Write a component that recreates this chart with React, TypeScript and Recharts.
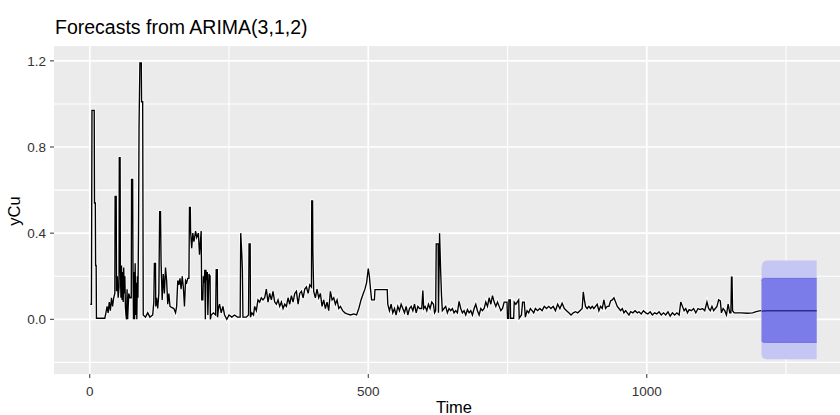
import { ComposedChart, Line, Area, XAxis, YAxis, CartesianGrid } from 'recharts';

const observed: [number, number][] = [
  [1, 0.07], [3, 0.07], [4, 0.97], [8, 0.97], [8.5, 0.54], [10, 0.54], [10.5, 0.25], [11.5, 0.25],
  [12, 0.005], [27, 0.005], [29, 0.03], [31, 0.06], [33, 0.03], [35, 0.08], [37, 0.04], [39, 0.1],
  [41, 0.06], [43, 0.1], [45, 0.12], [45.5, 0.57], [47.5, 0.57], [48, 0.13], [49.5, 0.2], [51, 0.1],
  [52.5, 0.15], [53, 0.75], [54.5, 0.75], [55, 0.22], [56, 0.1], [57, 0.25], [58, 0.09], [59, 0.22],
  [60, 0.08], [61, 0.24], [62, 0.12], [63, 0.2], [64, 0.06], [65, 0.02], [66, 0.0], [67, 0.14],
  [68, 0.0], [70, 0.12], [72, 0.1], [74.5, 0.1], [75, 0.65], [77, 0.65], [77.5, 0.28], [78.5, 0.0],
  [79.5, 0.22], [80.5, 0.0], [81.5, 0.26], [82.5, 0.02], [83.5, 0.17], [84.5, 0.0], [85.5, 0.2],
  [86.5, 0.1], [87.5, 0.4], [88.5, 0.9], [90, 1.19], [92.5, 1.19], [93, 1.01], [95, 1.01], [96, 0.02],
  [100, 0.01], [104, 0.03], [108, 0.01], [113, 0.02], [115, 0.08], [116, 0.26], [118, 0.26],
  [118.5, 0.06], [120, 0.1], [122, 0.05], [124, 0.12], [125.5, 0.5], [127, 0.5], [128, 0.27],
  [130, 0.09], [132, 0.21], [134, 0.12], [136, 0.24], [138, 0.18], [140, 0.07], [142, 0.12],
  [144, 0.06], [147, 0.055], [151, 0.05], [154, 0.03], [156, 0.06], [158, 0.18], [160, 0.16],
  [162, 0.19], [164, 0.14], [166, 0.2], [168, 0.15], [170, 0.06], [172, 0.18], [174, 0.17],
  [176, 0.19], [178, 0.19], [179, 0.52], [180.5, 0.52], [181, 0.41], [183, 0.33], [185, 0.4],
  [187, 0.36], [190, 0.41], [192, 0.38], [195, 0.4], [197, 0.3], [200, 0.41], [201, 0.09],
  [203, 0.09], [204, 0.2], [205.5, 0.17], [206.5, 0.23], [207.5, 0.0], [208.5, 0.23], [209.5, 0.18],
  [211, 0.22], [212, 0.02], [214, 0.21], [216, 0.2], [216.5, 0.0], [218, 0.02], [222, 0.03],
  [226, 0.02], [227, 0.23], [229, 0.23], [229.5, 0.01], [231, 0.05], [233, 0.07], [236, 0.03],
  [239, 0.06], [242, 0.02], [246, 0.0], [250, 0.02], [255, 0.01], [260, 0.02], [265, 0.01],
  [270, 0.01], [271, 0.4], [273, 0.3], [274, 0.23], [275, 0.01], [281, 0.01], [285, 0.02],
  [286, 0.35], [288, 0.35], [288.5, 0.01], [291, 0.03], [294, 0.02], [296, 0.06], [299, 0.04],
  [302, 0.09], [305, 0.08], [308, 0.1], [311, 0.09], [314, 0.1], [317, 0.14], [320, 0.08],
  [323, 0.12], [326, 0.09], [329, 0.13], [332, 0.08], [335, 0.07], [338, 0.09], [341, 0.06],
  [344, 0.08], [347, 0.05], [350, 0.07], [353, 0.06], [356, 0.1], [359, 0.07], [362, 0.11],
  [365, 0.08], [368, 0.12], [371, 0.13], [374, 0.07], [377, 0.12], [380, 0.13], [383, 0.1],
  [386, 0.14], [389, 0.15], [392, 0.12], [395, 0.16], [398, 0.15], [398.5, 0.55], [400, 0.55],
  [400.5, 0.32], [402, 0.13], [405, 0.1], [408, 0.14], [411, 0.1], [414, 0.12], [417, 0.06],
  [420, 0.09], [423, 0.05], [426, 0.08], [429, 0.04], [432, 0.13], [435, 0.09], [438, 0.1],
  [441, 0.07], [444, 0.09], [447, 0.05], [450, 0.06], [454, 0.04], [458, 0.03], [462, 0.025],
  [468, 0.02], [474, 0.025], [479, 0.02], [483, 0.05], [487, 0.09], [491, 0.12], [494, 0.14],
  [497, 0.17], [500, 0.235], [502, 0.2], [504, 0.14], [506, 0.09], [511, 0.09], [512, 0.138],
  [534, 0.138], [535, 0.07], [538, 0.04], [541, 0.07], [544, 0.03], [547, 0.05], [550, 0.02],
  [553, 0.06], [556, 0.04], [559, 0.07], [562, 0.05], [565, 0.03], [568, 0.06], [571, 0.02],
  [574, 0.05], [577, 0.06], [580, 0.04], [583, 0.07], [586, 0.03], [589, 0.06], [592, 0.05],
  [596, 0.05], [598, 0.134], [599.5, 0.05], [602, 0.06], [605, 0.04], [608, 0.07], [611, 0.05],
  [614, 0.08], [617, 0.07], [619, 0.03], [621, 0.04], [622, 0.35], [625.5, 0.35], [626, 0.03],
  [628, 0.4], [630, 0.22], [631.5, 0.11], [633, 0.04], [636, 0.05], [639, 0.06], [642, 0.03],
  [645, 0.05], [648, 0.04], [651, 0.05], [654, 0.03], [657, 0.04], [660, 0.03], [663, 0.083],
  [666, 0.05], [669, 0.03], [672, 0.04], [675, 0.02], [678, 0.045], [681, 0.03], [684, 0.04],
  [687, 0.02], [690, 0.05], [693, 0.07], [696, 0.04], [699, 0.02], [702, 0.05], [705, 0.04],
  [708, 0.05], [711, 0.08], [714, 0.06], [717, 0.1], [720, 0.07], [723, 0.11], [726, 0.08],
  [729, 0.06], [732, 0.08], [735, 0.06], [738, 0.04], [741, 0.05], [744, 0.08], [749, 0.08],
  [750, 0.005], [752, 0.005], [752.5, 0.09], [755, 0.09], [755.5, 0.005], [761, 0.005], [762, 0.08],
  [765, 0.07], [770, 0.09], [771, 0.005], [775, 0.02], [777, 0.08], [780, 0.08], [782, 0.01],
  [785, 0.04], [788, 0.03], [791, 0.05], [794, 0.04], [797, 0.03], [800, 0.05], [804, 0.04],
  [808, 0.05], [812, 0.04], [816, 0.06], [820, 0.05], [824, 0.06], [828, 0.05], [832, 0.06],
  [836, 0.04], [840, 0.07], [844, 0.05], [848, 0.075], [852, 0.05], [856, 0.04], [860, 0.03],
  [864, 0.02], [868, 0.03], [872, 0.035], [876, 0.03], [880, 0.04], [884, 0.05], [886, 0.127],
  [888, 0.09], [890, 0.06], [893, 0.05], [896, 0.06], [899, 0.05], [902, 0.06], [905, 0.05],
  [908, 0.06], [911, 0.07], [914, 0.04], [917, 0.06], [920, 0.05], [923, 0.09], [926, 0.05],
  [929, 0.06], [932, 0.06], [935, 0.085], [938, 0.09], [941, 0.1], [944, 0.08], [947, 0.06],
  [950, 0.05], [953, 0.04], [956, 0.05], [959, 0.03], [962, 0.04], [965, 0.03], [968, 0.02],
  [971, 0.035], [975, 0.03], [979, 0.04], [983, 0.03], [986, 0.035], [990, 0.025], [994, 0.04],
  [998, 0.03], [1002, 0.025], [1006, 0.035], [1010, 0.02], [1014, 0.03], [1018, 0.025],
  [1022, 0.035], [1026, 0.02], [1030, 0.03], [1034, 0.02], [1038, 0.035], [1042, 0.015],
  [1046, 0.03], [1050, 0.02], [1054, 0.03], [1058, 0.02], [1061, 0.08], [1064, 0.06], [1067, 0.04],
  [1070, 0.05], [1073, 0.03], [1076, 0.045], [1080, 0.04], [1084, 0.05], [1088, 0.03], [1092, 0.05],
  [1096, 0.045], [1100, 0.05], [1104, 0.04], [1108, 0.08], [1111, 0.05], [1114, 0.04], [1117, 0.06],
  [1120, 0.04], [1123, 0.05], [1126, 0.06], [1129, 0.09], [1132, 0.085], [1134, 0.03], [1137, 0.05],
  [1140, 0.04], [1143, 0.02], [1146, 0.07], [1149, 0.03], [1151, 0.03], [1152, 0.196], [1153, 0.196],
  [1154, 0.04], [1157, 0.03], [1160, 0.03], [1170, 0.03], [1180, 0.028], [1190, 0.03], [1195, 0.034],
  [1200, 0.038], [1205, 0.04],
];

// forecast horizon
const fcTime = [1206, 1208, 1211, 1215, 1250, 1305];
const fcMean = [0.038, 0.038, 0.039, 0.04, 0.04, 0.04];
const lo80 = [-0.1, -0.105, -0.107, -0.107, -0.107, -0.107];
const hi80 = [0.18, 0.188, 0.19, 0.19, 0.19, 0.19];
const lo95 = [-0.165, -0.178, -0.183, -0.185, -0.185, -0.185];
const hi95 = [0.24, 0.262, 0.27, 0.273, 0.273, 0.273];

const xTicks = [0, 500, 1000];
const xMinor = [250, 750, 1250];
const yTicks = [0, 0.4, 0.8, 1.2];
const yMinor = [-0.2, 0.2, 0.6, 1.0];

const obsData = observed.map(([t, v]) => ({ t, v }));
const fcData = fcTime.map((t, i) => ({
  t,
  m: fcMean[i],
  b80: [lo80[i], hi80[i]],
  b95: [lo95[i], hi95[i]],
}));

const font = '"Liberation Sans", Arial, sans-serif';

export default function App() {
  return (
    <div style={{ position: 'absolute', left: 0, top: 0, width: 840, height: 415, overflow: 'hidden', background: '#fff', fontFamily: font }}>
      <ComposedChart width={860} height={415} margin={{ top: 46, right: 7, bottom: 0, left: 0 }}>
        <CartesianGrid fill="#ebebeb" stroke="#fff" strokeWidth={1.1} horizontalValues={yMinor} verticalValues={xMinor} />
        <CartesianGrid fill="none" stroke="#fff" strokeWidth={1.7} horizontalValues={yTicks} verticalValues={xTicks} />
        <XAxis
          type="number"
          dataKey="t"
          domain={[-64.2, 1370.2]}
          allowDataOverflow
          ticks={xTicks}
          height={41}
          axisLine={false}
          tickSize={4}
          tickMargin={8}
          tickLine={{ stroke: '#333' }}
          tick={{ fontSize: 13.5, fill: '#333', fontFamily: font }}
        />
        <YAxis
          type="number"
          domain={[-0.254, 1.269]}
          allowDataOverflow
          ticks={yTicks}
          width={54}
          axisLine={false}
          tickSize={4}
          tickMargin={4}
          tickLine={{ stroke: '#333' }}
          tickFormatter={(v: number) => v.toFixed(1)}
          tick={{ fontSize: 13.5, fill: '#333', fontFamily: font }}
        />
        <Area data={fcData} dataKey="b95" type="linear" stroke="none" fill="#c6c6f5" fillOpacity={1} isAnimationActive={false} dot={false} activeDot={false} />
        <Area data={fcData} dataKey="b80" type="linear" stroke="#6c6cdc" strokeWidth={1} fill="#7b7bea" fillOpacity={1} isAnimationActive={false} dot={false} activeDot={false} />
        <Line data={obsData} dataKey="v" type="linear" stroke="#fff" strokeOpacity={0.75} strokeWidth={3.4} dot={false} activeDot={false} isAnimationActive={false} />
        <Line data={obsData} dataKey="v" type="linear" stroke="#000" strokeWidth={1.35} dot={false} activeDot={false} isAnimationActive={false} />
        <Line data={fcData} dataKey="m" type="linear" stroke="#2e2e8a" strokeWidth={1.5} dot={false} activeDot={false} isAnimationActive={false} />
      </ComposedChart>
      <svg width={840} height={415} style={{ position: 'absolute', left: 0, top: 0, pointerEvents: 'none' }}>
        <text x={55} y={34} fontSize={19.5} fill="#000" fontFamily={font}>Forecasts from ARIMA(3,1,2)</text>
        <text x={454} y={413} fontSize={16.5} fill="#000" textAnchor="middle" fontFamily={font}>Time</text>
        <text transform="translate(20,211) rotate(-90)" fontSize={16.5} fill="#000" textAnchor="middle" fontFamily={font}>yCu</text>
      </svg>
    </div>
  );
}
